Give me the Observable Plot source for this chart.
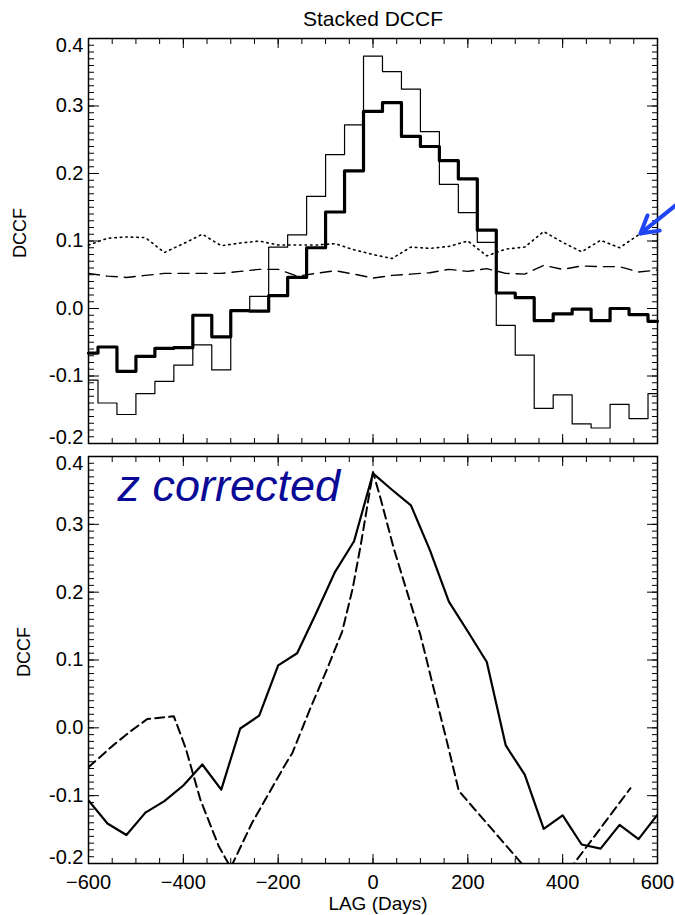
<!DOCTYPE html>
<html><head><meta charset="utf-8">
<script src="https://cdn.jsdelivr.net/npm/d3@7"></script>
<script src="https://cdn.jsdelivr.net/npm/@observablehq/plot@0.6"></script>
<style>
body{margin:0;background:#fff;}
#chart svg{display:block;}
</style></head><body><div id="chart"></div>
<script>
// ---- data ----
const lags = [-600,-560,-520,-480,-440,-400,-360,-320,-280,-240,-200,-160,-120,-80,-40,0,40,80,120,160,200,240,280,320,360,400,440,480,520,560,600];
const stackThin = [-0.106,-0.140,-0.157,-0.126,-0.108,-0.084,-0.054,-0.091,-0.003,0.018,0.091,0.109,0.166,0.228,0.272,0.374,0.351,0.325,0.262,0.184,0.142,0.098,-0.025,-0.069,-0.148,-0.128,-0.171,-0.177,-0.142,-0.163,-0.126];
const stackThick = [-0.066,-0.057,-0.093,-0.071,-0.059,-0.058,-0.010,-0.042,-0.003,-0.004,0.019,0.046,0.090,0.143,0.204,0.292,0.305,0.255,0.240,0.219,0.192,0.116,0.023,0.016,-0.018,-0.008,-0.001,-0.018,0.000,-0.009,-0.019];
const dottedLags = [-600,-560,-520,-480,-440,-400,-360,-320,-280,-240,-200,-160,-120,-80,-40,0,40,80,120,160,200,240,280,320,360,400,440,480,520,564];
const dottedVals = [0.094,0.104,0.106,0.105,0.083,0.096,0.110,0.093,0.097,0.100,0.094,0.094,0.094,0.096,0.087,0.080,0.074,0.091,0.089,0.092,0.100,0.078,0.088,0.091,0.114,0.098,0.084,0.101,0.090,0.111];
const dashedVals = [0.052,0.048,0.046,0.049,0.052,0.052,0.052,0.052,0.055,0.058,0.058,0.048,0.052,0.056,0.051,0.045,0.049,0.051,0.053,0.058,0.055,0.059,0.052,0.051,0.064,0.058,0.063,0.062,0.062,0.054,0.057];
const zSolid = [-0.107,-0.141,-0.158,-0.125,-0.108,-0.085,-0.054,-0.091,-0.001,0.018,0.092,0.110,0.169,0.230,0.275,0.375,0.351,0.328,0.262,0.186,0.142,0.097,-0.026,-0.069,-0.149,-0.129,-0.172,-0.178,-0.143,-0.164,-0.128];
const zDashLags = [-600,-550,-515,-476,-420,-395,-364,-325,-300,-255,-185,-170,-132,-96,-65,-43,-26,0,16,44,72,100,128,160,181,311,370,423,543];
const zDashVals = [-0.058,-0.027,-0.007,0.013,0.017,-0.030,-0.106,-0.175,-0.206,-0.140,-0.054,-0.037,0.029,0.088,0.142,0.205,0.269,0.377,0.338,0.264,0.200,0.137,0.058,-0.032,-0.093,-0.198,-0.248,-0.201,-0.089];
const arrowFrom = {lag: 660, dccf: 0.165};

const xMajor = [-600,-400,-200,0,200,400,600];
const xMinor = d3.range(-600, 601, 50);
const yMajor = [-0.2,-0.1,0.0,0.1,0.2,0.3,0.4];
const yInner = [-0.1,0.0,0.1,0.2,0.3];
const yMinor = d3.range(-20, 41).map(d => d / 100);

const titleText = "Stacked DCCF";
const yLabel = "DCCF";
const xLabel = "LAG (Days)";
const note = "z corrected";

// tables
const topRows = lags.map((l, i) => ({lag: l, thin: stackThin[i], thick: stackThick[i], dash: dashedVals[i]}));
const dotRows = dottedLags.map((l, i) => ({lag: l, v: dottedVals[i]}));
const botRows = lags.map((l, i) => ({lag: l, v: zSolid[i]}));
const botDash = zDashLags.map((l, i) => ({lag: l, v: zDashVals[i]}));
const lastDot = dotRows[dotRows.length - 1];
const arrowRows = [{x1: arrowFrom.lag, y1: arrowFrom.dccf, x2: lastDot.lag, y2: lastDot.v}];

const fmt = d => d.toFixed(1);
function frameMarks(xLabels, labelDx) {
  const tk = {fill: "none", label: null, stroke: "black"};
  const m = [
    Plot.axisX(xMinor, {...tk, anchor: "top", tickSize: -5}),
    Plot.axisX(xMinor, {...tk, anchor: "bottom", tickSize: -5}),
    Plot.axisX(xMajor, {...tk, anchor: "top", tickSize: -9}),
    Plot.axisX(xMajor, {...tk, anchor: "bottom", tickSize: -9}),
    Plot.axisY(yMinor, {...tk, anchor: "left", tickSize: -6}),
    Plot.axisY(yMinor, {...tk, anchor: "right", tickSize: -6}),
    Plot.axisY(yMajor, {...tk, anchor: "left", tickSize: -11}),
    Plot.axisY(yMajor, {...tk, anchor: "right", tickSize: -11}),
    Plot.axisY(yInner, {anchor: "left", tickSize: 0, tickPadding: 5, tickFormat: fmt, label: null, fill: "black", fontSize: 20}),
    Plot.axisY([0.4], {anchor: "left", tickSize: 0, tickPadding: 5, tickFormat: fmt, label: null, fill: "black", dy: 7, fontSize: 20}),
    Plot.axisY([-0.2], {anchor: "left", tickSize: 0, tickPadding: 5, tickFormat: fmt, label: null, fill: "black", dy: -6, fontSize: 20}),
    Plot.text([yLabel], {frameAnchor: "left", dx: labelDx, dy: 17, rotate: -90, fontSize: 18, fill: "black"}),
    Plot.frame({stroke: "black", strokeWidth: 1.5})
  ];
  if (xLabels) m.push(Plot.axisX(xMajor, {anchor: "bottom", tickSize: 0, tickPadding: 11, label: null, fill: "black", fontSize: 20}));
  return m;
}

const common = {
  width: 675, marginLeft: 88, marginRight: 18,
  x: {domain: [-600, 600]},
  y: {domain: [-0.2, 0.4]},
  style: {fontFamily: "'Liberation Sans', Arial, sans-serif", fontSize: "19px", background: "white", color: "black"}
};

const p1 = Plot.plot({
  ...common,
  height: 450, marginTop: 38, marginBottom: 7,
  marks: [
    Plot.line(dotRows, {x: "lag", y: "v", stroke: "black", strokeWidth: 1.6, strokeDasharray: "1.5,4"}),
    Plot.line(topRows, {x: "lag", y: "dash", stroke: "black", strokeWidth: 1.4, strokeDasharray: "11,7"}),
    Plot.line(topRows, {x: "lag", y: "thin", curve: "step", stroke: "black", strokeWidth: 1.2}),
    Plot.line(topRows, {x: "lag", y: "thick", curve: "step", stroke: "black", strokeWidth: 3.2}),
    ...frameMarks(false, -68),
    Plot.text([titleText], {frameAnchor: "top", dy: -13, lineAnchor: "bottom", fontSize: 21, fill: "black"}),
    Plot.arrow(arrowRows, {x1: "x1", y1: "y1", x2: "x2", y2: "y2", stroke: "#1f45f5", strokeWidth: 4, headLength: 16})
  ]
});

const p2 = Plot.plot({
  ...common,
  height: 465, marginTop: 6, marginBottom: 52,
  marks: [
    Plot.line(botDash, {x: "lag", y: "v", stroke: "black", strokeWidth: 2, strokeDasharray: "9,5", clip: true}),
    Plot.line(botRows, {x: "lag", y: "v", stroke: "black", strokeWidth: 2.2, clip: true}),
    ...frameMarks(true, -64),
    Plot.text([xLabel], {frameAnchor: "bottom", dy: 40, dx: 5, lineAnchor: "middle", fontSize: 19, fill: "black"}),
    Plot.text([note], {frameAnchor: "top-left", dx: 29, dy: 44, lineAnchor: "bottom", textAnchor: "start", fontSize: 45, fontStyle: "italic", fill: "#0a0a96"})
  ]
});

const c = document.getElementById("chart");
c.appendChild(p1);
c.appendChild(p2);
</script></body></html>
